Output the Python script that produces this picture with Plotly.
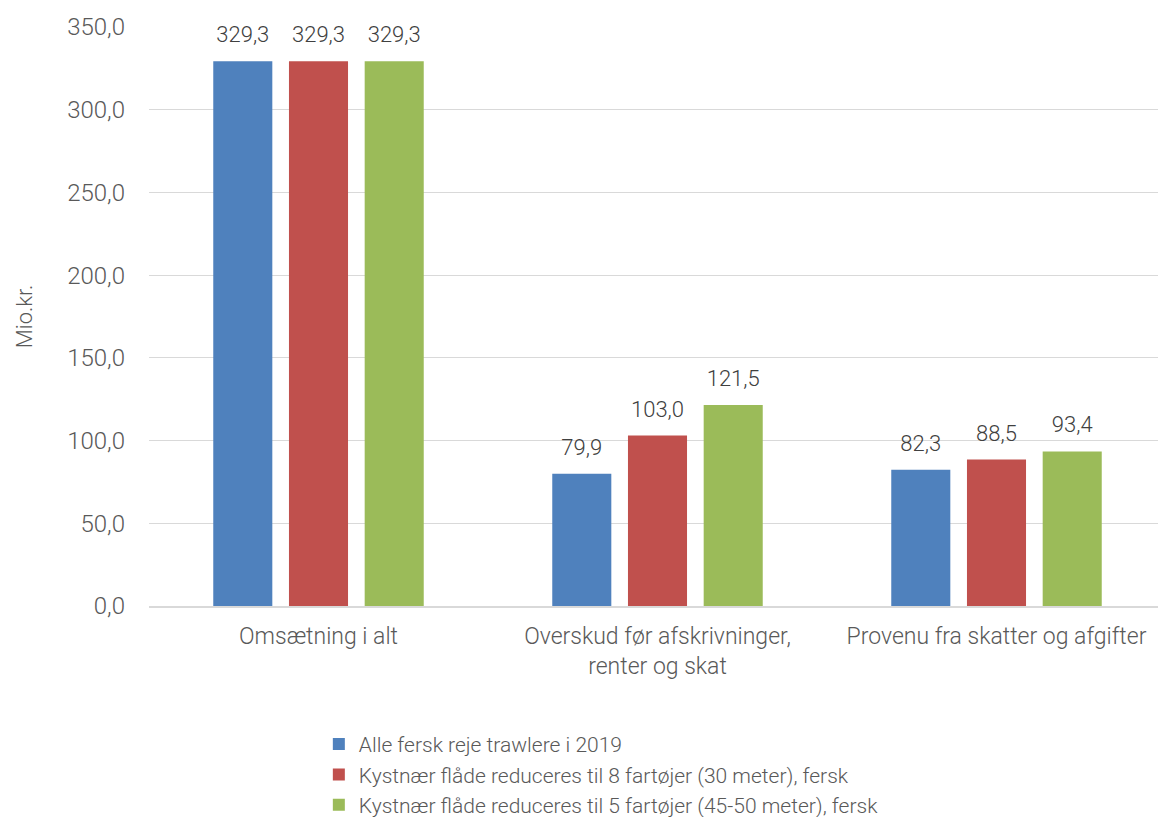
import plotly.graph_objects as go

categories = [
    "Omsætning i alt",
    "Overskud før afskrivninger,<br>renter og skat",
    "Provenu fra skatter og afgifter",
]
series_names = [
    "Alle fersk reje trawlere i 2019",
    "Kystnær flåde reduceres til 8 fartøjer (30 meter), fersk",
    "Kystnær flåde reduceres til 5 fartøjer (45-50 meter), fersk",
]
alle_2019 = [329.3, 79.9, 82.3]
reduceret_8 = [329.3, 103.0, 88.5]
reduceret_5 = [329.3, 121.5, 93.4]

colors = ["#4F81BD", "#C0504D", "#9BBB59"]
FONT = "Roboto, sans-serif"

fig = go.Figure()
for i, (name, vals) in enumerate(zip(series_names, [alle_2019, reduceret_8, reduceret_5])):
    fig.add_trace(
        go.Bar(
            x=categories,
            y=vals,
            name=name,
            offsetgroup=str(i),
            marker=dict(color=colors[i], line=dict(width=0)),
        )
    )
# value labels, lifted a bit above the bars (invisible markers push text up)
for i, vals in enumerate([alle_2019, reduceret_8, reduceret_5]):
    fig.add_trace(
        go.Scatter(
            x=categories,
            y=vals,
            mode="markers+text",
            offsetgroup=str(i),
            text=[f"{v:.1f}".replace(".", ",") for v in vals],
            textposition="top center",
            marker=dict(size=20, opacity=0),
            textfont=dict(size=22, color="#404040", family=FONT, weight=300),
            cliponaxis=False,
            showlegend=False,
            hoverinfo="skip",
        )
    )

fig.update_layout(
    width=1158,
    height=809,
    template="simple_white",
    separators=", ",
    font=dict(family=FONT, size=22, color="#595959", weight=300),
    margin=dict(l=141, r=0, t=19, b=211),
    barmode="group",
    scattermode="group",
    bargap=0.33,
    bargroupgap=0.22,
    plot_bgcolor="white",
    paper_bgcolor="white",
    legend=dict(
        orientation="v",
        x=0.167,
        xanchor="left",
        yref="container",
        y=0.115,
        yanchor="top",
        tracegroupgap=0,
        font=dict(size=21, color="#595959", family=FONT, weight=300),
        itemclick=False,
    ),
    showlegend=True,
)
fig.update_xaxes(
    automargin=False,
    showline=True,
    linecolor="#d9d9d9",
    linewidth=2,
    ticks="",
    ticklabelstandoff=8,
    tickfont=dict(size=23, color="#595959", family=FONT, weight=300),
)
fig.update_yaxes(
    automargin=False,
    range=[0, 350],
    dtick=50,
    tickformat=".1f",
    showline=False,
    ticks="",
    showgrid=True,
    gridcolor="#d9d9d9",
    gridwidth=1,
    zeroline=False,
    ticklabelstandoff=23,
    title=dict(text="Mio.kr.", font=dict(size=22, color="#595959", family=FONT, weight=300), standoff=28),
    tickfont=dict(size=24, color="#595959", family=FONT, weight=300),
)

fig.write_html("out.html")
